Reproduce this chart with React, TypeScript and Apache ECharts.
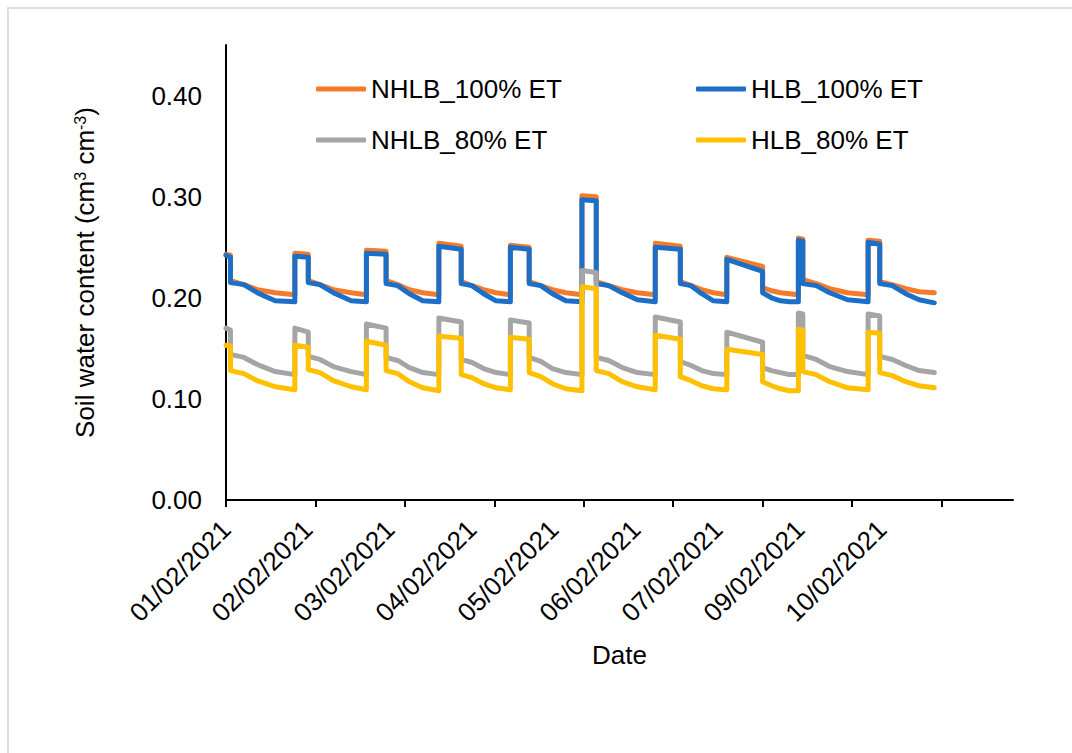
import React, { useEffect, useRef } from 'react';
import * as echarts from 'echarts';

// time in days from the first tick
const days = [
  0.00, 0.05, 0.05, 0.20, 0.35, 0.55, 0.77,
  0.77, 0.92, 0.92, 1.05, 1.20, 1.40, 1.57,
  1.57, 1.79, 1.79, 1.92, 2.05, 2.20, 2.38,
  2.38, 2.63, 2.63, 2.75, 2.88, 3.02, 3.18,
  3.18, 3.39, 3.39, 3.52, 3.65, 3.80, 3.98,
  3.98, 4.14, 4.14, 4.28, 4.43, 4.60, 4.80,
  4.80, 5.08, 5.08, 5.20, 5.32, 5.45, 5.60,
  5.60, 6.00, 6.00, 6.10, 6.20, 6.30, 6.40,
  6.40, 6.45, 6.45, 6.60, 6.75, 6.95, 7.18,
  7.18, 7.31, 7.31, 7.45, 7.60, 7.75, 7.92,
];

const nhlb100 = [
  0.243, 0.242, 0.217, 0.213, 0.208, 0.205, 0.203,
  0.244, 0.243, 0.217, 0.213, 0.208, 0.205, 0.203,
  0.247, 0.246, 0.217, 0.213, 0.208, 0.205, 0.203,
  0.254, 0.251, 0.216, 0.212, 0.208, 0.205, 0.203,
  0.252, 0.250, 0.216, 0.212, 0.208, 0.205, 0.203,
  0.301, 0.300, 0.216, 0.212, 0.208, 0.205, 0.203,
  0.254, 0.251, 0.216, 0.212, 0.208, 0.205, 0.203,
  0.240, 0.231, 0.210, 0.207, 0.205, 0.204, 0.203,
  0.259, 0.258, 0.218, 0.214, 0.209, 0.205, 0.203,
  0.257, 0.256, 0.216, 0.213, 0.209, 0.206, 0.205,
];

const hlb100 = [
  0.242, 0.240, 0.215, 0.213, 0.205, 0.197, 0.196,
  0.241, 0.240, 0.215, 0.213, 0.205, 0.197, 0.196,
  0.244, 0.243, 0.214, 0.212, 0.204, 0.197, 0.196,
  0.251, 0.248, 0.214, 0.212, 0.204, 0.197, 0.196,
  0.250, 0.248, 0.214, 0.212, 0.204, 0.197, 0.196,
  0.297, 0.296, 0.214, 0.212, 0.205, 0.198, 0.196,
  0.250, 0.248, 0.214, 0.212, 0.204, 0.197, 0.196,
  0.238, 0.226, 0.205, 0.200, 0.197, 0.196, 0.196,
  0.257, 0.256, 0.214, 0.212, 0.205, 0.198, 0.196,
  0.255, 0.253, 0.214, 0.212, 0.204, 0.198, 0.195,
];

const nhlb80 = [
  0.170, 0.168, 0.144, 0.141, 0.134, 0.127, 0.124,
  0.170, 0.166, 0.142, 0.139, 0.132, 0.127, 0.124,
  0.174, 0.170, 0.141, 0.138, 0.131, 0.126, 0.124,
  0.180, 0.176, 0.139, 0.136, 0.130, 0.126, 0.124,
  0.178, 0.175, 0.141, 0.137, 0.130, 0.126, 0.124,
  0.227, 0.225, 0.141, 0.138, 0.131, 0.126, 0.124,
  0.181, 0.176, 0.137, 0.133, 0.128, 0.125, 0.124,
  0.166, 0.156, 0.131, 0.128, 0.126, 0.124, 0.124,
  0.185, 0.184, 0.143, 0.139, 0.132, 0.127, 0.124,
  0.184, 0.182, 0.142, 0.139, 0.133, 0.128, 0.126,
];

const hlb80 = [
  0.153, 0.152, 0.128, 0.125, 0.118, 0.112, 0.109,
  0.153, 0.151, 0.129, 0.126, 0.118, 0.112, 0.109,
  0.157, 0.153, 0.128, 0.125, 0.117, 0.111, 0.108,
  0.162, 0.160, 0.124, 0.121, 0.115, 0.111, 0.109,
  0.161, 0.159, 0.126, 0.122, 0.115, 0.110, 0.108,
  0.211, 0.209, 0.128, 0.125, 0.117, 0.112, 0.109,
  0.163, 0.159, 0.122, 0.118, 0.113, 0.110, 0.109,
  0.149, 0.144, 0.117, 0.113, 0.110, 0.108, 0.108,
  0.169, 0.168, 0.127, 0.124, 0.117, 0.111, 0.109,
  0.166, 0.165, 0.126, 0.123, 0.117, 0.113, 0.111,
];

const dateLabels = [
  '01/02/2021', '02/02/2021', '03/02/2021', '04/02/2021', '05/02/2021',
  '06/02/2021', '07/02/2021', '09/02/2021', '10/02/2021',
];
const tickDays = [0, 1, 2, 3, 4, 5, 6, 7, 8];

const seriesNames = ['NHLB_100% ET', 'HLB_100% ET', 'NHLB_80% ET', 'HLB_80% ET'];
const seriesColors = ['#F47B2C', '#1C6FC6', '#A5A5A5', '#FFC000'];
const seriesValues = [nhlb100, hlb100, nhlb80, hlb80];

const FONT = '"Liberation Sans", Arial, sans-serif';

export default function App() {
  const ref = useRef<HTMLDivElement>(null);
  useEffect(() => {
    if (!ref.current) return;
    const chart = echarts.init(ref.current, undefined, { renderer: 'svg' });
    const legendCommon = {
      padding: 0,
      itemWidth: 50,
      itemHeight: 5,
      icon: 'roundRect',
      textStyle: { fontSize: 26, color: '#000', fontFamily: FONT },
    };
    chart.setOption({
      animation: false,
      backgroundColor: '#fff',
      textStyle: { fontFamily: FONT },
      grid: { left: 217, top: 36, width: 787, height: 455 },
      legend: [
        { ...legendCommon, data: [seriesNames[0]], left: 307, top: 67 },
        { ...legendCommon, data: [seriesNames[1]], left: 687, top: 67 },
        { ...legendCommon, data: [seriesNames[2]], left: 307, top: 118 },
        { ...legendCommon, data: [seriesNames[3]], left: 687, top: 118 },
      ],
      xAxis: [
        {
          type: 'value',
          position: 'bottom',
          min: 0,
          max: 8.8,
          interval: 1,
          name: 'Date',
          nameLocation: 'middle',
          nameGap: 142,
          nameTextStyle: { fontSize: 26, color: '#000', fontFamily: FONT },
          axisLine: { show: true, lineStyle: { color: '#000', width: 2 } },
          axisTick: { show: true, length: 7, lineStyle: { color: '#000', width: 2 }, customValues: tickDays },
          axisLabel: { show: false },
          splitLine: { show: false },
        },
        {
          type: 'value',
          position: 'bottom',
          min: 0,
          max: 9.6,
          interval: 1,
          axisLine: { show: false },
          axisTick: { show: false },
          splitLine: { show: false },
          axisLabel: {
            show: true,
            rotate: 45,
            margin: 25,
            fontSize: 26,
            color: '#000',
            fontFamily: FONT,
            formatter: (v: number) => (Number.isInteger(v) && v < dateLabels.length ? dateLabels[v] : ''),
          },
        },
      ],
      yAxis: {
        type: 'value',
        min: 0,
        max: 0.45,
        interval: 0.05,
        name: 'Soil water content (cm{sup|3} cm{sup|-3})',
        nameLocation: 'middle',
        nameGap: 128,
        nameTextStyle: {
          fontSize: 26,
          color: '#000',
          fontFamily: FONT,
          rich: {
            sup: { fontSize: 16, color: '#000', fontFamily: FONT, verticalAlign: 'top', lineHeight: 26 },
          },
        },
        axisLine: { show: true, lineStyle: { color: '#000', width: 2 } },
        axisTick: { show: false },
        splitLine: { show: false },
        axisLabel: {
          margin: 24,
          fontSize: 26,
          color: '#000',
          fontFamily: FONT,
          formatter: (v: number) => (Math.round(v * 100) % 10 === 0 ? v.toFixed(2) : ''),
        },
      },
      series: seriesNames.map((name, k) => ({
        name,
        type: 'line',
        xAxisIndex: 0,
        showSymbol: false,
        symbol: 'none',
        color: seriesColors[k],
        lineStyle: { color: seriesColors[k], width: 5, cap: 'round', join: 'round' },
        data: days.map((d, i) => [d, seriesValues[k][i]]),
      })),
    });
    return () => chart.dispose();
  }, []);

  return (
    <div
      style={{
        position: 'fixed',
        left: 7,
        top: 7,
        width: 1065,
        height: 746,
        boxSizing: 'border-box',
        borderLeft: '2px solid #dedede',
        borderTop: '2px solid #dedede',
        background: '#fff',
      }}
    >
      <div ref={ref} style={{ width: 1063, height: 744 }} />
    </div>
  );
}
